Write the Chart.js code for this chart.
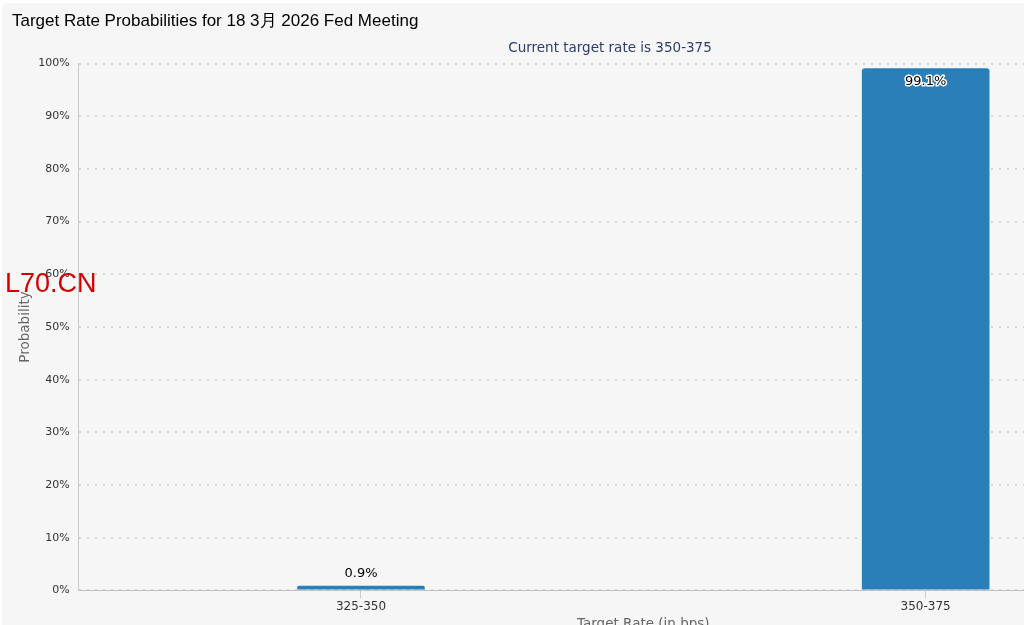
<!DOCTYPE html>
<html>
<head>
<meta charset="utf-8">
<script src="https://cdn.jsdelivr.net/npm/chart.js@4.4.1/dist/chart.umd.min.js"></script>
<style>
  html, body { margin: 0; padding: 0; background: #ffffff; overflow: hidden; width: 1024px; height: 625px; }
  #panel { position: absolute; left: 2px; top: 3px; width: 1220px; height: 660px; background: #f6f6f6; border-radius: 5px; }
  #mark { position: absolute; left: 5px; top: 268px; color: #d40000; font: 27px "Liberation Sans", Arial, sans-serif; }
</style>
</head>
<body>
<div id="panel"><canvas id="fed" width="1220" height="660"></canvas></div>
<div id="mark">L70.CN</div>
<script>
const titleText = 'Target Rate Probabilities for 18 3月 2026 Fed Meeting'
const subtitleText = 'Current target rate is 350-375'
const rates = ['325-350', '350-375']
const probs = [0.9, 99.1]
const yTicks = [0, 10, 20, 30, 40, 50, 60, 70, 80, 90, 100]

// percent labels on the bars, inside the bar when it is too tall
const barLabels = {
  id: 'barLabels',
  afterDatasetsDraw(chart) {
    const ctx = chart.ctx
    const meta = chart.getDatasetMeta(0)
    ctx.save()
    ctx.font = '13px "DejaVu Sans", sans-serif'
    ctx.textAlign = 'center'
    ctx.textBaseline = 'middle'
    meta.data.forEach((bar, i) => {
      const txt = probs[i] + '%'
      if (probs[i] > 90) {
        const y = bar.y + 13
        ctx.lineWidth = 3
        ctx.strokeStyle = '#ffffff'
        ctx.lineJoin = 'round'
        ctx.strokeText(txt, bar.x, y)
        ctx.fillStyle = '#000000'
        ctx.fillText(txt, bar.x, y)
      } else {
        ctx.fillStyle = '#000000'
        ctx.fillText(txt, bar.x, bar.y - 12)
      }
    })
    ctx.restore()
  }
}

new Chart(document.getElementById('fed'), {
  type: 'bar',
  data: {
    labels: rates,
    datasets: [{
      data: probs,
      backgroundColor: '#2a7fb8',
      borderRadius: { topLeft: 3, topRight: 3 },
      borderSkipped: 'bottom',
      categoryPercentage: 1,
      barPercentage: 0.226
    }]
  },
  options: {
    responsive: false,
    animation: false,
    devicePixelRatio: 1,
    layout: { padding: { left: 10, right: 14, top: 0, bottom: 30 } },
    plugins: {
      legend: { display: false },
      tooltip: { enabled: false },
      title: {
        display: true,
        text: titleText,
        align: 'start',
        color: '#000000',
        font: { family: '"Liberation Sans", Arial, sans-serif', size: 17, weight: 'normal' },
        padding: { top: 8, bottom: 9 }
      },
      subtitle: {
        display: true,
        text: subtitleText,
        color: '#2b3d6b',
        font: { family: '"DejaVu Sans", sans-serif', size: 13.5 },
        padding: { top: 0, bottom: 7 }
      }
    },
    scales: {
      x: {
        grid: { drawOnChartArea: false, drawTicks: true, tickLength: 8, color: '#cccccc', offset: false },
        border: { color: '#c0c0c0' },
        ticks: { color: '#333333', font: { family: '"DejaVu Sans", sans-serif', size: 12 }, padding: 1 },
        title: { display: true, text: 'Target Rate (in bps)', color: '#666666', font: { family: '"DejaVu Sans", sans-serif', size: 13.5 }, padding: { top: 2, bottom: 0 } }
      },
      y: {
        min: 0,
        max: 100,
        afterBuildTicks: axis => { axis.ticks = yTicks.map(v => ({ value: v })) },
        grid: { drawTicks: false, color: '#d6d6d6', lineWidth: 2 },
        border: { color: '#c8c8c8', dash: [2, 6] },
        ticks: { color: '#333333', font: { family: '"DejaVu Sans", sans-serif', size: 11 }, padding: 9, callback: v => v + '%' },
        title: { display: true, text: 'Probability', color: '#666666', font: { family: '"DejaVu Sans", sans-serif', size: 13.5 }, padding: { top: 5, bottom: -4 } }
      }
    }
  },
  plugins: [barLabels]
})
</script>
</body>
</html>
